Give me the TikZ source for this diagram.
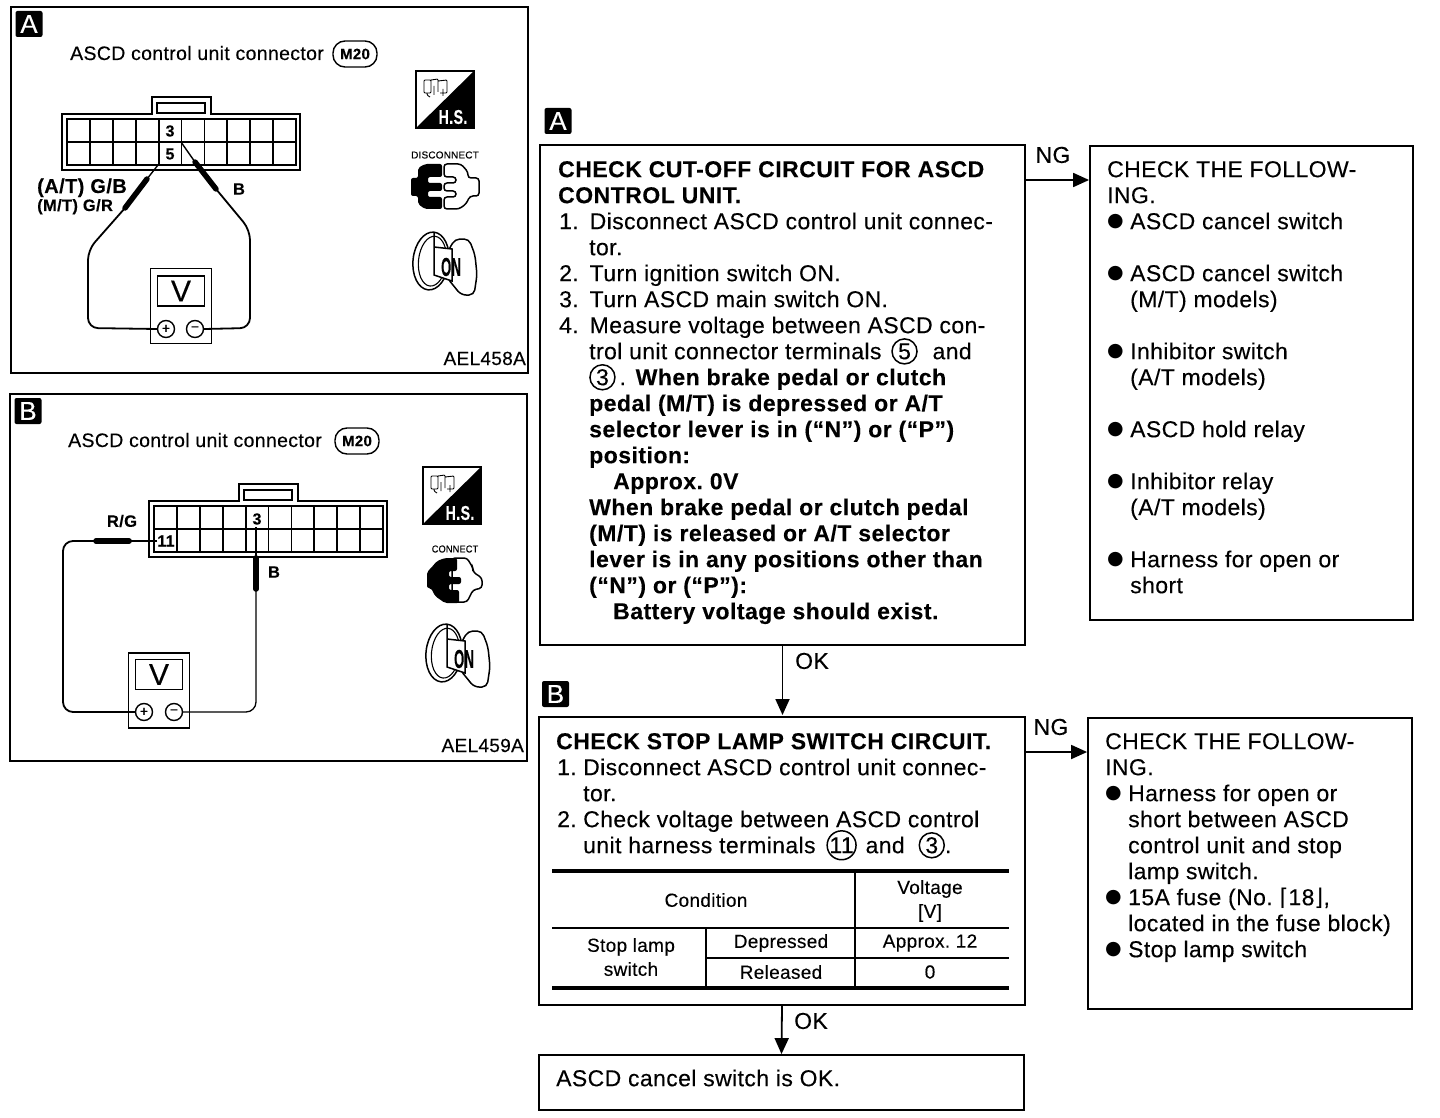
\documentclass[tikz,border=0pt]{standalone}
\usepackage{fontspec}
\usepackage{graphicx}
\setmainfont{Liberation Sans}[LetterSpace=1.7,FakeBold=0.25,BoldFeatures={FakeBold=0.15,LetterSpace=2.1}]
\newfontfamily\djv{DejaVu Sans}
\usetikzlibrary{arrows.meta,calc}
\frenchspacing
\tikzset{
 frame/.style={draw=black,line width=1.8pt,fill=white,rectangle,inner sep=0pt},
 tag/.style={fill=black,text=white,rounded corners=2pt,minimum width=27pt,minimum height=26pt,inner sep=0pt,font=\fontsize{26}{26}\selectfont},
 txt/.style={anchor=north west,inner sep=0pt,align=left,font=\fontsize{23}{26}\selectfont},
 lab/.style={inner sep=0pt,font=\fontsize{23}{26}\selectfont},
 cell/.style={inner sep=0pt,align=center,font=\fontsize{19}{24}\selectfont},
 small/.style={inner sep=0pt,font=\fontsize{19.5}{20}\selectfont},
 capt/.style={inner sep=0pt,font=\fontsize{19}{20}\selectfont},
 flow/.style={line width=1.8pt,-{Triangle[length=16pt,width=14pt]}},
 rule/.style={line width=3.4pt},
 trule/.style={line width=1.8pt},
 wire/.style={line width=1.8pt,rounded corners=10pt},
 probe/.style={line width=5.5pt,line cap=round},
 thinw/.style={line width=1.4pt},
 term/.style={circle,draw,line width=1.4pt,minimum size=17pt,inner sep=0pt,fill=white,font=\fontsize{14}{14}\selectfont},
 oval/.style={rounded corners=12pt,draw,line width=1.4pt,minimum width=44pt,minimum height=26pt,inner sep=0pt,font=\bfseries\fontsize{15}{15}\selectfont},
 meter/.style={draw,line width=1.7pt,minimum width=61pt,minimum height=75pt,inner sep=0pt},
 display/.style={draw,line width=1.7pt,minimum width=47pt,minimum height=30pt,inner sep=0pt,font=\fontsize{30}{30}\selectfont},
 pin/.style={inner sep=0pt,font=\bfseries\fontsize{16}{16}\selectfont},
 wirelab/.style={inner sep=0pt,font=\bfseries\fontsize{16.5}{16.5}\selectfont},
}
\newcommand{\cn}[1]{\smash{\tikz[baseline={(cc.base)}]\node[circle,draw,line width=1.5pt,inner sep=0pt,minimum size=25pt](cc){#1};}}
\newcommand{\ind}{\hspace*{31pt}}
\newcommand{\indd}{\hspace*{55pt}}
\newcommand{\nm}[1]{\hspace*{1pt}\makebox[30.5pt][l]{#1}}
\newcommand{\bu}{\makebox[23pt][l]{\raisebox{2.5pt}{\djv\fontsize{19}{19}\selectfont ●}}}
\newcommand{\bi}{\hspace*{23pt}}
\newcommand{\connector}[2]{%
 \begin{scope}[shift={(#1,#2)}]
  \draw[line width=1.8pt] (0,17) -- (90,17) -- (90,0) -- (149,0) -- (149,17) -- (238,17) -- (238,73) -- (0,73) -- cycle;
  \draw[line width=1.3pt] (95,6) rectangle (143,16);
  \draw[line width=1.8pt] (5,22) rectangle (234,68);
  \draw[line width=1.8pt] (5,45) -- (234,45);
  \foreach \i in {1,...,9} \draw[line width=1.8pt] ({5+\i*22.9},22) -- ({5+\i*22.9},68);
 \end{scope}}
\newcommand{\hsicon}[2]{%
 \begin{scope}[shift={(#1,#2)}]
  \draw[line width=1.8pt,fill=white] (0,0) rectangle (58,57);
  \fill (58,0) -- (58,57) -- (0,57) -- cycle;
  \node[text=white,inner sep=0pt,font=\bfseries\fontsize{20}{20}\selectfont,xscale=.72] (hs#1) at (37,46) {H.S.};
  \draw[line width=.9pt,rounded corners=1pt] (8,9) rectangle (15,22) (15,9) -- (22,8) -- (22,21) (22,10) -- (31,9) -- (31,22) -- (24,22) (11,22) -- (11,24) -- (14,26) (18,15) -- (18,24) (27,18) -- (27,25);
 \end{scope}}
\newcommand{\keyicon}[2]{%
 \begin{scope}[shift={(#1,#2)}]
  \draw[line width=1.5pt,rotate=-6] (0,0) ellipse (18pt and 29pt);
  \draw[line width=1.1pt,rotate=-6] (1.5,0) ellipse (14pt and 25pt);
  \draw[line width=1.5pt,fill=white,rounded corners=5pt] (17,-10) -- (24,-22) -- (38,-22) -- (44,-6) -- (46,14) -- (43,34) -- (30,34) -- (22,24) -- (17,18) -- cycle;
  \draw[line width=1.5pt,fill=white] (3,-29) -- (3,14) -- (21,20) -- (21,-12) -- (3,-14);
  \node[inner sep=0pt,font=\bfseries\fontsize{26}{26}\selectfont,xscale=.5] (on#1) at (20,6) {ON};
 \end{scope}}
\begin{document}
\begin{tikzpicture}[x=1pt,y=-1pt]
\useasboundingbox (0,0) rectangle (1440,1118);
\fill[white] (0,0) rectangle (1440,1118);

% ---------- panel A ----------
\draw[line width=1.8pt] (11,7) rectangle (528,373);
\node[tag] (pa) at (29,24) {A};
\node[small,anchor=base west] (ta) at (70,60) {ASCD control unit connector};
\node[oval] (ma) at (355,54) {M20};
\connector{62}{97}
\node[pin] (a3) at (170,131) {3};
\node[pin] (a5) at (170,154) {5};
\node[meter] (va) at (181,306) {};
\node[display] (da) at (181,291) {V};
\node[term] (pla) at (166,329) {+};
\node[term] (mia) at (195,329) {−};
\coordinate (a5c) at (158,165);
\coordinate (a3c) at (181,142);
\draw[thinw] (a5c) -- (147,179);
\draw[probe] (147,179) -- (125,208);
\draw[wire] (125,208) -- (88,250) -- (88,328) -- (pla.west);
\draw[thinw] (a3c) -- (195,162);
\draw[probe] (195,162) -- (216,189);
\draw[wire] (216,189) -- (250,230) -- (250,328) -- (mia.east);
\node[inner sep=0pt,font=\bfseries\fontsize{20}{20}\selectfont,anchor=base west] (la) at (37,193) {(A/T) G/B};
\node[inner sep=0pt,font=\bfseries\fontsize{16.5}{16.5}\selectfont,anchor=base west] (lb) at (37,211) {(M/T) G/R};
\node[wirelab] (lc) at (239,189) {B};
\hsicon{416}{71}
\node[inner sep=0pt,font=\fontsize{10}{10}\selectfont] (dc) at (445,155) {DISCONNECT};
\begin{scope}[shift={(411,164)}]
 \draw[line width=1.5pt,fill=white,rounded corners=3pt] (33,0) -- (50,0) -- (57,8) -- (57,14) -- (68,14) -- (68,32) -- (59,32) -- (55,40) -- (48,45) -- (33,45) -- (33,33) -- (45,33) -- (45,27) -- (33,27) -- (33,19) -- (45,19) -- (45,13) -- (33,13) -- cycle;
 \fill[rounded corners=2pt] (0,14) -- (7,14) -- (7,4) -- (14,0) -- (31,0) -- (31,13) -- (17,13) -- (17,19) -- (31,19) -- (31,27) -- (17,27) -- (17,33) -- (31,33) -- (31,45) -- (14,45) -- (7,40) -- (7,32) -- (0,32) -- cycle;
\end{scope}
\keyicon{431}{261}
\node[capt,anchor=base east] (ca) at (526,365) {AEL458A};

% ---------- panel B ----------
\draw[line width=1.8pt] (10,394) rectangle (527,761);
\node[tag] (pb) at (28,411) {B};
\node[small,anchor=base west] (tb) at (68,447) {ASCD control unit connector};
\node[oval] (mb) at (357,441) {M20};
\connector{149}{484}
\node[pin] (b3) at (257,519) {3};
\node[pin,fill=white] (b11) at (166,541) {11};
\node[meter] (vb) at (159,690.5) {};
\node[display] (db) at (159,674.5) {V};
\node[term] (plb) at (144,712) {+};
\node[term] (mib) at (174,712) {−};
\coordinate (b3c) at (256,527);
\draw[thinw] (b11.west) -- ++(-28,0) coordinate (q1);
\draw[probe] (q1) -- (96,541);
\draw[wire] (96,541) -- (63,541) -- (63,712) -- (plb.west);
\draw[thinw] (b3c) -- (256,558);
\draw[probe] (256,558) -- (256,589);
\draw[wire,line width=1.3pt] (256,589) -- (256,712) -- (mib.east);
\node[wirelab] (lrg) at (122,521) {R/G};
\node[wirelab] (lbb) at (274,572) {B};
\hsicon{423}{467}
\node[inner sep=0pt,font=\fontsize{10}{10}\selectfont,xscale=.92] (dd) at (455,549) {CONNECT};
\begin{scope}[shift={(427,558)}]
 \draw[line width=1.5pt,fill=white,rounded corners=3pt] (25,0) -- (40,0) -- (46,10) -- (46,14) -- (55,20) -- (55,30) -- (46,32) -- (40,44) -- (25,44) -- cycle;
 \fill[rounded corners=2pt] (0,14) -- (4,10) -- (10,3) -- (18,0) -- (30,0) -- (30,13) -- (22,13) -- (22,19) -- (34,19) -- (34,26) -- (22,26) -- (22,32) -- (32,32) -- (32,45) -- (18,45) -- (8,38) -- (4,30) -- (0,30) -- cycle;
\end{scope}
\keyicon{444}{653}
\node[capt,anchor=base east] (cb) at (524,752) {AEL459A};

% ---------- flow A ----------
\node[tag] (la1) at (558,121) {A};
\node[frame,minimum width=485pt,minimum height=500pt] (boxA) at (782.5,395) {};
\node[frame,minimum width=323pt,minimum height=474pt] (noA) at (1251.5,383) {};
\node[txt] (tA) at (558,158.8) {\strut\textbf{CHECK CUT-OFF CIRCUIT FOR ASCD}\\
\textbf{CONTROL UNIT.}\\
\nm{1.}Disconnect ASCD control unit connec-\\
\ind tor.\\
\nm{2.}Turn ignition switch ON.\\
\nm{3.}Turn ASCD main switch ON.\\
\nm{4.}Measure voltage between ASCD con-\\
\ind trol unit connector terminals \hspace{3pt}\cn{5}\hspace{8pt} and\\
\ind\cn{3}\,. \hspace{3pt}\textbf{When brake pedal or clutch}\\
\ind\textbf{pedal (M/T) is depressed or A/T}\\
\ind\textbf{selector lever is in (“N”) or (“P”)}\\
\ind\textbf{position:}\\
\indd\textbf{Approx. 0V}\\
\ind\textbf{When brake pedal or clutch pedal}\\
\ind\textbf{(M/T) is released or A/T selector}\\
\ind\textbf{lever is in any positions other than}\\
\ind\textbf{(“N”) or (“P”):}\\
\indd\textbf{Battery voltage should exist.}};
\node[txt] (tnA) at (1107,158.8) {\strut CHECK THE FOLLOW-\\
ING.\\
\bu ASCD cancel switch\\[26pt]
\bu ASCD cancel switch\\
\bi (M/T) models)\\[26pt]
\bu Inhibitor switch\\
\bi (A/T models)\\[26pt]
\bu ASCD hold relay\\[26pt]
\bu Inhibitor relay\\
\bi (A/T models)\\[26pt]
\bu Harness for open or\\
\bi short};
\coordinate (ngA) at (boxA.east |- 0,180);
\draw[flow] (ngA) -- (noA.west |- ngA);
\node[lab] (ngla) at (1053,155) {NG};
\draw[flow] (boxA.south) -- (782.5,715);
\node[lab] (okla) at (812,661) {OK};

% ---------- flow B ----------
\node[tag] (lb1) at (555.5,694) {B};
\node[frame,minimum width=486pt,minimum height=288pt] (boxB) at (782,861) {};
\node[frame,minimum width=324pt,minimum height=291pt] (noB) at (1250,863.5) {};
\node[frame,minimum width=485pt,minimum height=55pt] (boxC) at (781.5,1082.5) {};
\node[txt] (tB) at (556,730.8) {\strut\textbf{CHECK STOP LAMP SWITCH CIRCUIT.}\\
\nm{1.}\hspace*{-4.5pt}Disconnect ASCD control unit connec-\\
\hspace*{27pt}tor.\\
\nm{2.}\hspace*{-4.5pt}Check voltage between ASCD control\\
\hspace*{27pt}unit harness terminals \hspace{4pt}\cn{11}\hspace{2pt} and \hspace{7pt}\cn{3}.};
\node[txt] (tnB) at (1105,730.8) {\strut CHECK THE FOLLOW-\\
ING.\\
\bu Harness for open or\\
\bi short between ASCD\\
\bi control unit and stop\\
\bi lamp switch.\\
\bu 15A fuse (No. {\djv ⌈}18{\djv ⌋},\\
\bi located in the fuse block)\\
\bu Stop lamp switch};
\node[txt] (tC) at (556,1067.8) {\strut ASCD cancel switch is OK.};
\coordinate (ngB) at (boxB.east |- 0,752);
\draw[flow] (ngB) -- (noB.west |- ngB);
\node[lab] (nglb) at (1051,727) {NG};
\draw[flow] (boxB.south) -- (boxC.north);
\node[lab] (oklb) at (811,1021) {OK};

% ---------- table ----------
\draw[rule] (552,871) -- (1009,871);
\draw[rule] (552,988) -- (1009,988);
\draw[trule] (552,928) -- (1009,928);
\draw[trule] (706,958) -- (1009,958);
\draw[trule] (855,871) -- (855,988);
\draw[trule] (706,928) -- (706,988);
\node[cell] (c1) at (706,900) {Condition};
\node[cell] (c2) at (930,901) {Voltage\\{[V]}};
\node[cell] (c3) at (631,957) {Stop lamp\\switch};
\node[cell] (c4) at (781,943) {Depressed};
\node[cell] (c5) at (781,972) {Released};
\node[cell] (c6) at (930,943) {Approx. 12};
\node[cell] (c7) at (930,972) {0};
\end{tikzpicture}
\end{document}
